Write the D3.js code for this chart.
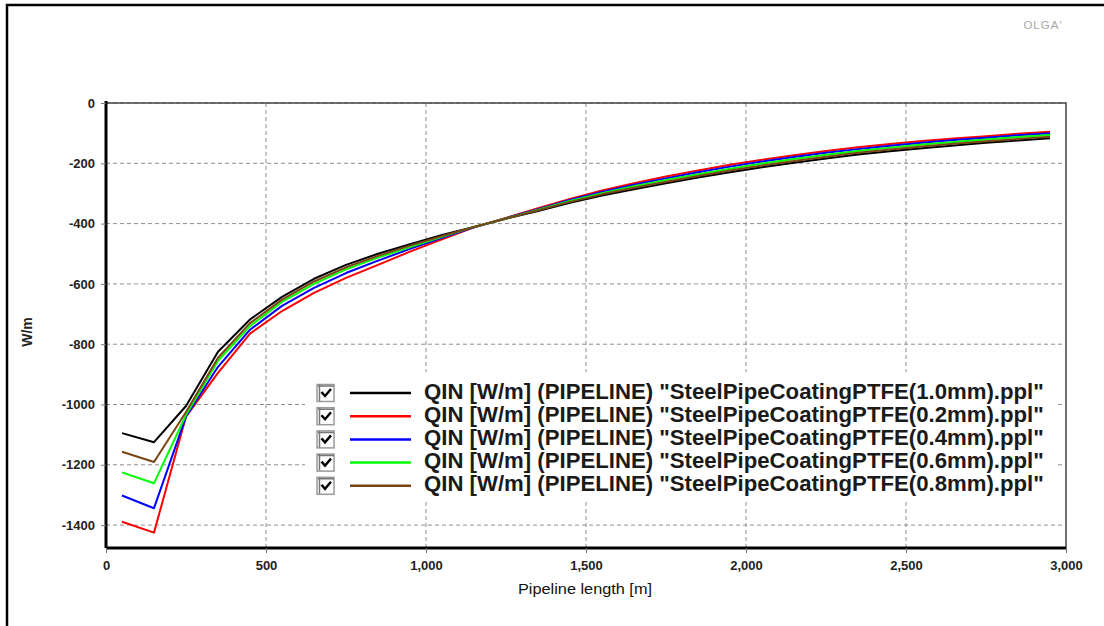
<!DOCTYPE html>
<html>
<head>
<meta charset="utf-8">
<script src="https://cdn.jsdelivr.net/npm/d3@7"></script>
<style>
  body { margin: 0; background: #fff; }
  svg { display: block; font-family: "Liberation Sans", Arial, sans-serif; }
</style>
</head>
<body>
<svg id="chart" width="1104" height="626"></svg>
<script>
// pipeline positions [m]
const lengths = [50, 150, 250, 350, 450, 550, 650, 750, 850, 950, 1050, 1150, 1250, 1350, 1450,
  1550, 1650, 1750, 1850, 1950, 2050, 2150, 2250, 2350, 2450, 2550, 2650, 2750, 2850, 2950];

// QIN [W/m] per coating thickness
const qin10 = [-1095, -1125, -1005, -825, -718, -643, -583, -537, -500, -468, -438, -411, -384, -358, -331,
  -307, -286, -266, -247, -230, -213, -198, -184, -171, -160, -150, -141, -132, -124, -117];
const qin02 = [-1389, -1425, -1040, -895, -765, -690, -630, -580, -537, -493, -452, -412, -381, -349, -318,
  -290, -266, -244, -224, -205, -188, -173, -159, -147, -136, -126, -118, -110, -102, -95];
const qin04 = [-1302, -1344, -1040, -875, -752, -673, -613, -564, -523, -484, -447, -412, -382, -352, -322,
  -295, -271, -250, -230, -211, -194, -179, -165, -153, -142, -132, -123, -115, -107, -100];
const qin06 = [-1225, -1261, -1035, -855, -740, -660, -600, -552, -513, -478, -444, -411, -383, -354, -325,
  -299, -276, -255, -236, -218, -201, -186, -172, -159, -148, -138, -129, -121, -113, -106];
const qin08 = [-1157, -1191, -1025, -845, -730, -652, -592, -545, -507, -473, -441, -411, -383, -356, -328,
  -303, -281, -261, -242, -224, -207, -192, -178, -165, -154, -144, -135, -127, -119, -112];

const seriesNames = [
  'QIN [W/m] (PIPELINE) "SteelPipeCoatingPTFE(1.0mm).ppl"',
  'QIN [W/m] (PIPELINE) "SteelPipeCoatingPTFE(0.2mm).ppl"',
  'QIN [W/m] (PIPELINE) "SteelPipeCoatingPTFE(0.4mm).ppl"',
  'QIN [W/m] (PIPELINE) "SteelPipeCoatingPTFE(0.6mm).ppl"',
  'QIN [W/m] (PIPELINE) "SteelPipeCoatingPTFE(0.8mm).ppl"'
];
const seriesColors = ["#000000", "#ff0000", "#0000ff", "#00ff00", "#7a4514"];
const seriesValues = [qin10, qin02, qin04, qin06, qin08];

const xTicks = [0, 500, 1000, 1500, 2000, 2500, 3000];
const yTicks = [0, -200, -400, -600, -800, -1000, -1200, -1400];

const svg = d3.select("#chart");

// outer frame
svg.append("rect")
  .attr("x", 7).attr("y", 5)
  .attr("width", 1200).attr("height", 700)
  .attr("fill", "none").attr("stroke", "#000").attr("stroke-width", 2.5);

svg.append("text")
  .attr("x", 1043).attr("y", 29)
  .attr("text-anchor", "middle")
  .attr("font-size", 11.5).attr("letter-spacing", 1)
  .attr("fill", "#a8a8a8")
  .text("OLGA'");

const plotLeft = 106, plotRight = 1066, plotTop = 103, plotBottom = 548;

const x = d3.scaleLinear().domain([0, 3000]).range([plotLeft, plotRight]);
const y = d3.scaleLinear().domain([0, -1476]).range([plotTop, plotBottom]);

// grid
const grid = svg.append("g").attr("stroke", "#8f8f8f").attr("stroke-dasharray", "4,3").attr("stroke-width", 1);
grid.selectAll(".vg").data(xTicks.slice(1, -1)).join("line")
  .attr("x1", (d) => x(d)).attr("x2", (d) => x(d))
  .attr("y1", plotTop).attr("y2", plotBottom);
grid.selectAll(".hg").data(yTicks).join("line")
  .attr("x1", plotLeft).attr("x2", plotRight)
  .attr("y1", (d) => y(d)).attr("y2", (d) => y(d));

// legend background hides the grid underneath
svg.append("rect")
  .attr("x", 305).attr("y", 372)
  .attr("width", 752).attr("height", 128)
  .attr("fill", "#fff");

// top and right borders
svg.append("path")
  .attr("d", `M${plotLeft},${plotTop}H${plotRight}V${plotBottom}`)
  .attr("fill", "none").attr("stroke", "#444").attr("stroke-width", 1.5);

// curves
const line = d3.line()
  .x((d, i) => x(lengths[i]))
  .y((d) => y(d));

svg.append("g").selectAll("path").data(seriesValues).join("path")
  .attr("d", (d) => line(d))
  .attr("fill", "none")
  .attr("stroke", (d, i) => seriesColors[i])
  .attr("stroke-width", 2)
  .attr("stroke-linejoin", "round");

// axes
const xAxis = svg.append("g")
  .attr("transform", `translate(0,${plotBottom})`)
  .call(d3.axisBottom(x).tickValues(xTicks).tickSize(5).tickPadding(8).tickFormat(d3.format(",")));
const yAxis = svg.append("g")
  .attr("transform", `translate(${plotLeft},0)`)
  .call(d3.axisLeft(y).tickValues(yTicks).tickSize(5).tickPadding(6).tickFormat((d) => d));

[xAxis, yAxis].forEach((a) => {
  a.select(".domain").attr("stroke", "#000").attr("stroke-width", 3);
  a.selectAll(".tick line").attr("stroke", "#777");
  a.selectAll(".tick text")
    .attr("font-size", 13).attr("font-weight", "bold")
    .attr("font-family", "'Liberation Sans', Arial, sans-serif")
    .attr("fill", "#222");
});
yAxis.select(".domain").attr("d", `M0,${plotTop - 2}V${plotBottom}`);
xAxis.select(".domain").attr("d", `M${plotLeft},0H${plotRight}`);

// axis titles
svg.append("text")
  .attr("transform", "translate(32,332) rotate(-90)")
  .attr("text-anchor", "middle")
  .attr("font-size", 14).attr("font-weight", "bold").attr("fill", "#222")
  .text("W/m");

svg.append("text")
  .attr("x", 585).attr("y", 594)
  .attr("text-anchor", "middle")
  .attr("font-size", 14).attr("fill", "#111")
  .attr("textLength", 134).attr("lengthAdjust", "spacingAndGlyphs")
  .text("Pipeline length [m]");

// legend
const legend = svg.append("g");
const rows = legend.selectAll("g").data(seriesNames).join("g")
  .attr("transform", (d, i) => `translate(0,${393 + i * 23.2})`);

rows.append("rect")
  .attr("x", 317).attr("y", -8.5)
  .attr("width", 17).attr("height", 17)
  .attr("fill", "#fff").attr("stroke", "#9a9a9a").attr("stroke-width", 1.5);
rows.append("path")
  .attr("d", "M319.5,-8.5V8 M318,-7H334")
  .attr("stroke", "#777").attr("stroke-width", 1.5);
rows.append("path")
  .attr("d", "M321.5,-1 L325,3 L331,-4")
  .attr("fill", "none").attr("stroke", "#000").attr("stroke-width", 2.4);

rows.append("line")
  .attr("x1", 350).attr("x2", 411)
  .attr("y1", 0).attr("y2", 0)
  .attr("stroke", (d, i) => seriesColors[i])
  .attr("stroke-width", 2.5);

rows.append("text")
  .attr("x", 424).attr("y", 5.5)
  .attr("font-size", 15).attr("font-weight", "bold").attr("fill", "#1a1a1a")
  .text((d) => d)
  .each(function () {
    const len = this.getComputedTextLength();
    d3.select(this).attr("font-size", 15 * 620 / len);
  });
</script>
</body>
</html>
